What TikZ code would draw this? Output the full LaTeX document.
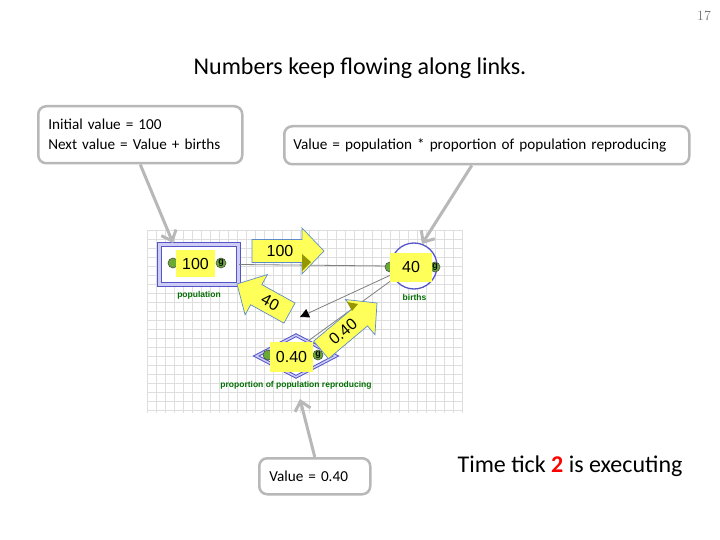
\documentclass[tikz,border=0pt]{standalone}
\usepackage{fontspec}
\setsansfont{Carlito}
\newfontfamily\arialfont{Liberation Sans}
\usetikzlibrary{arrows.meta,positioning,calc,shapes.geometric}

\definecolor{slidegray}{RGB}{184,184,184}
\definecolor{memo}{RGB}{255,255,90}
\definecolor{flowedge}{RGB}{95,140,200}
\definecolor{modelblue}{RGB}{85,85,200}
\definecolor{lavender}{RGB}{205,205,245}
\definecolor{namegreen}{RGB}{0,110,0}
\definecolor{gball}{RGB}{105,170,55}
\definecolor{tipolive}{RGB}{150,150,0}
\definecolor{gridgray}{RGB}{222,222,222}

\begin{document}
\begin{tikzpicture}[x=1pt, y=-1pt,
  callout/.style={draw=slidegray, line width=2.5pt, rounded corners=8pt, fill=white,
    anchor=north west, align=left, inner xsep=9pt, font=\sffamily\fontsize{15.2}{20}\selectfont},
  callarrow/.style={draw=slidegray, line width=3pt, -{Straight Barb[length=9pt,width=16pt]}},
  stock/.style={rectangle, draw=modelblue, line width=1.2pt, double=lavender, double distance=2.5pt,
    fill=white, minimum width=79pt, minimum height=40pt},
  aux/.style={circle, draw=modelblue, line width=1.3pt, fill=white, minimum size=46pt},
  const/.style={diamond, draw=modelblue, line width=1pt, double=lavender, double distance=1.5pt,
    fill=white, minimum width=80pt, minimum height=42pt, inner sep=0pt},
  link/.style={draw=black!50, line width=0.8pt},
  ball/.style={circle, fill=gball, draw=black!70, line width=0.6pt, inner sep=0pt, minimum size=10pt,
    font=\arialfont\bfseries\fontsize{9}{9}\selectfont},
  value/.style={fill=memo, inner sep=0pt, font=\arialfont\fontsize{16}{16}\selectfont},
  flow/.style={draw=flowedge, fill=memo, line width=0.7pt, line join=miter},
  flowtext/.style={inner sep=0pt, transform shape, font=\arialfont\fontsize{16}{16}\selectfont},
  vname/.style={text=namegreen, inner sep=0pt, font=\arialfont\bfseries\fontsize{8.5}{9}\selectfont}
]
  \useasboundingbox[fill=white] (0,0) rectangle (720,540);

  \node[text=black!55, font=\rmfamily\fontsize{14}{14}\selectfont] (pagenum) at (704,16) {17};
  \node[font=\sffamily\fontsize{24}{28}\selectfont] (title) at (360,68) {Numbers keep flowing along links.};

  % model screenshot: grid
  \foreach \gx in {147,156,...,462}
    \draw[gridgray, line width=0.6pt] (\gx,230) -- (\gx,413);
  \foreach \gy in {230,239,...,413}
    \draw[gridgray, line width=0.6pt] (147,\gy) -- (462,\gy);

  \node[stock] (pop) at (199,264.5) {};
  \node[aux] (births) at (414,266) {};
  \node[const] (prop) at (296,356) {};

  \coordinate (linkEnd) at (300,317);
  \draw[link] (pop.east) -- (births.west);
  \draw[link, -{Triangle[length=9pt,width=9pt,color=black]}] (births.201) -- (linkEnd);
  \draw[link] ($(prop.north)!0.3!(prop.east)$) -- (births.212);

  \node[ball] (popIn) at (173,263) {};
  \node[ball] (popOut) at (221,263) {g};
  \node[ball] (birthsIn) at (390,267) {};
  \node[ball] (birthsOut) at (435,267) {g};
  \node[ball] (propIn) at (268,355) {};
  \node[ball] (propOut) at (318,355) {g};

  \node[value, minimum width=39pt, minimum height=27pt] (popVal) at (195.5,263.5) {100};
  \node[value, minimum width=42pt, minimum height=29pt] (birthsVal) at (411,267) {40};
  \node[value, minimum width=43pt, minimum height=30pt] (propVal) at (291.5,357) {0.40};

  \node[vname] (popName) at (199,295) {population};
  \node[vname] (birthsName) at (414.5,297.5) {births};
  \node[vname] (propName) at (296,385.5) {proportion of population reproducing};

  % values moving along the links (tip, angle, length, text, text turn)
  \foreach \tx/\ty/\ang/\len/\val/\turn in {324/251/0/72/100/0, 237/284/151/60/40/180, 377/303/40/73/0.40/0} {
    \begin{scope}[shift={(\tx,\ty)}, rotate=\ang]
      \draw[flow] (0,0) -- (-22,-23) -- (-22,-11.5) -- (-\len,-11.5) -- (-\len,11.5)
        -- (-22,11.5) -- (-22,23) -- cycle;
      \node[flowtext, rotate=\turn] (flow\val) at ({-(\len+16)/2},0) {\val};
    \end{scope}
  }
  \fill[tipolive] (302,254) -- (311,262) -- (302,271) -- cycle;
  \fill[tipolive] (347,302) -- (358,304) -- (352,311) -- cycle;

  % callouts
  \node[callout, minimum width=204pt, minimum height=57pt, text width=184pt, inner xsep=10pt] (callInit) at (37,105)
    {Initial value = 100\\Next value = Value + births};
  \node[callout, minimum width=405pt, minimum height=38pt, text width=387pt] (callFormula) at (283,125)
    {Value = population * proportion of population reproducing};
  \node[callout, minimum width=111pt, minimum height=36pt, text width=91pt, inner xsep=10pt] (callConst) at (258,457)
    {Value = 0.40};

  \coordinate (popTip) at (173,243);
  \coordinate (birthsTip) at (422,244);
  \coordinate (propTip) at (300,399);
  \draw[callarrow] (callInit.south) -- (popTip);
  \draw[callarrow] ([xshift=-15pt]callFormula.south) -- (birthsTip);
  \draw[callarrow] (callConst.north) -- (propTip);

  \node[font=\sffamily\fontsize{24}{28}\selectfont] (tick) at (570,466)
    {Time tick \textcolor{red}{\textbf{2}} is executing};
\end{tikzpicture}
\end{document}
